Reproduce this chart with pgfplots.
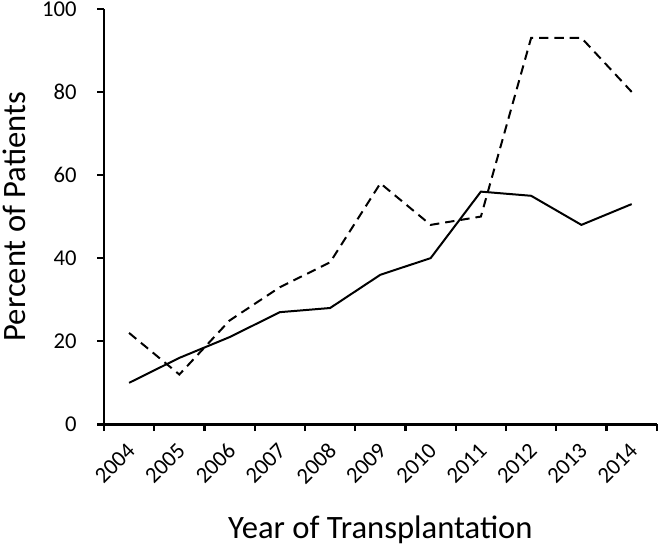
\documentclass[border=0pt]{standalone}
\usepackage{fontspec}
\setmainfont{Carlito}
\usepackage{pgfplots}
\pgfplotsset{compat=1.18}
\begin{document}
\begin{tikzpicture}
\begin{axis}[
  width=415pt, height=312pt, scale only axis,
  xmin=-0.5, xmax=10.5, ymin=0, ymax=100,
  axis lines=left,
  axis line style={-, line width=1.8pt},
  every tick/.style={black, line width=1.8pt},
  tick align=outside,
  major tick length=5pt,
  xtick={-0.5,0.5,...,10.5},
  x tick label as interval,
  xticklabels={2004,2005,2006,2007,2008,2009,2010,2011,2012,2013,2014},
  xticklabel style={xshift=-2.5pt, yshift=-3pt, rotate=45, anchor=north east, font=\fontsize{17}{19}\selectfont},
  ytick={0,20,...,100},
  yticklabel style={font=\fontsize{17}{19}\selectfont, xshift=-12pt, inner ysep=1pt},
  /pgf/number format/assume math mode=true,
  xlabel={Year of Transplantation},
  ylabel={Percent of Patients},
  label style={font=\fontsize{24.5}{26}\selectfont},
  xlabel style={inner ysep=2pt, yshift=-16pt},
  ylabel style={inner ysep=2pt, yshift=7pt},
  clip=false,
]
\addplot[black, line width=1.5pt] coordinates {
  (0,10) (1,16) (2,21) (3,27) (4,28) (5,36) (6,40) (7,56) (8,55) (9,48) (10,53)
};
\addplot[black, line width=1.5pt, dash pattern=on 7pt off 4.5pt] coordinates {
  (0,22) (1,12) (2,25) (3,33) (4,39) (5,58) (6,48) (7,50) (8,93) (9,93) (10,80)
};
\end{axis}
\end{tikzpicture}
\end{document}
